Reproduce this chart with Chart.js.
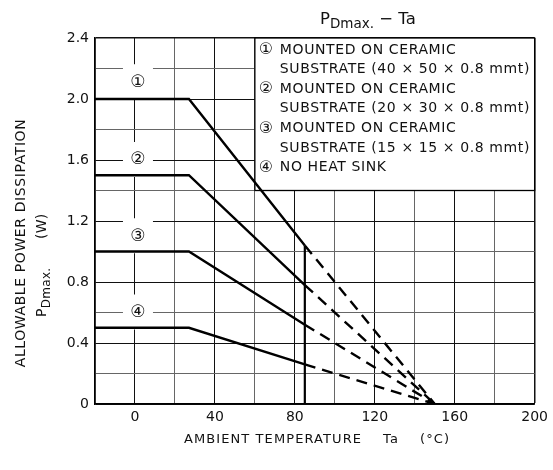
<!DOCTYPE html>
<html>
<head>
<meta charset="utf-8">
<script src="https://cdn.jsdelivr.net/npm/chart.js@4/dist/chart.umd.min.js"></script>
<style>
  html, body { margin: 0; padding: 0; background: #fff; }
  #wrap { width: 553px; height: 470px; }
</style>
</head>
<body>
<div id="wrap"><canvas id="pdChart" width="553" height="470"></canvas></div>
<script>
// solid part of each derating curve (Ta, PD)
const solidTemps = [-20, 27, 85];
const solidPower = [
  [2.0, 2.0, 1.04],
  [1.5, 1.5, 0.78],
  [1.0, 1.0, 0.52],
  [0.5, 0.5, 0.26]
];
// dashed extension down to zero
const dashTemps = [85, 150];
const dashPower = [
  [1.04, 0],
  [0.78, 0],
  [0.52, 0],
  [0.26, 0]
];
// vertical marker at 85 C
const markerTemps = [85, 85];
const markerPower = [0, 1.04];

const curveMarks = ['①', '②', '③', '④'];
const markTemp = 1.5;
const markPower = [2.11, 1.6, 1.1, 0.6];

const legendLines = [
  ['①', 'MOUNTED ON CERAMIC'],
  ['', 'SUBSTRATE (40 × 50 × 0.8 mmt)'],
  ['②', 'MOUNTED ON CERAMIC'],
  ['', 'SUBSTRATE (20 × 30 × 0.8 mmt)'],
  ['③', 'MOUNTED ON CERAMIC'],
  ['', 'SUBSTRATE (15 × 15 × 0.8 mmt)'],
  ['④', 'NO HEAT SINK']
];
const legendBox = { x1: 60, x2: 200, y1: 1.4, y2: 2.4 };

const xMin = -20, xMax = 200, xStep = 20;
const yMin = 0, yMax = 2.4, yStep = 0.2;

const FONT = '"DejaVu Sans", "Open Sans", sans-serif';

function pts(xs, ys) {
  return xs.map((t, i) => ({ x: t, y: ys[i] }));
}

var datasets = [];
solidPower.forEach(function (p) {
  datasets.push({ data: pts(solidTemps, p), borderColor: '#000', borderWidth: 2.4, pointRadius: 0, tension: 0, fill: false });
});
dashPower.forEach(function (p) {
  datasets.push({ data: pts(dashTemps, p), borderColor: '#000', borderWidth: 2.4, borderDash: [11, 7], pointRadius: 0, tension: 0, fill: false });
});
datasets.push({ data: pts(markerTemps, markerPower), borderColor: '#000', borderWidth: 2.2, pointRadius: 0, fill: false });

const overlay = {
  id: 'overlay',
  beforeDatasetsDraw(chart) {
    const ctx = chart.ctx;
    const x = chart.scales.x, y = chart.scales.y;
    ctx.save();
    // legend box
    const l = x.getPixelForValue(legendBox.x1), r = x.getPixelForValue(legendBox.x2);
    const t = y.getPixelForValue(legendBox.y2), b = y.getPixelForValue(legendBox.y1);
    ctx.fillStyle = '#fff';
    ctx.fillRect(l, t, r - l, b - t);
    ctx.strokeStyle = '#000';
    ctx.lineWidth = 1.3;
    ctx.strokeRect(l, t, r - l, b - t);

    ctx.fillStyle = '#111';
    ctx.textBaseline = 'middle';
    ctx.textAlign = 'left';
    legendLines.forEach(function (ln, i) {
      const ty = t + 12 + i * 19.6;
      ctx.letterSpacing = '0px';
      if (ln[0]) {
        ctx.font = '16px ' + FONT;
        ctx.fillText(ln[0], l + 4, ty);
      }
      ctx.font = '14px ' + FONT;
      ctx.letterSpacing = '0.6px';
      ctx.fillText(ln[1], l + 25, ty);
    });
    ctx.letterSpacing = '0px';

    // curve number marks with white gap behind them
    curveMarks.forEach(function (m, i) {
      const cx = x.getPixelForValue(markTemp), cy = y.getPixelForValue(markPower[i]);
      ctx.fillStyle = '#fff';
      ctx.fillRect(cx - 15, cy - 18, 30, 35);
      ctx.fillStyle = '#111';
      ctx.font = '17px ' + FONT;
      ctx.textAlign = 'center';
      ctx.fillText(m, cx, cy);
    });
    ctx.restore();
  },
  afterDraw(chart) {
    const ctx = chart.ctx;
    ctx.save();
    ctx.fillStyle = '#111';
    ctx.textBaseline = 'alphabetic';
    // title  P Dmax. - Ta
    ctx.textAlign = 'left';
    let tx = 320;
    ctx.font = '16.5px ' + FONT;
    ctx.fillText('P', tx, 24);
    tx += ctx.measureText('P').width;
    ctx.font = '13.5px ' + FONT;
    ctx.fillText('Dmax.', tx, 28);
    tx += ctx.measureText('Dmax.').width;
    ctx.font = '16.5px ' + FONT;
    ctx.fillText(' − Ta', tx, 24);

    // x axis title
    ctx.font = '13px ' + FONT;
    ctx.letterSpacing = '1.1px';
    ctx.textAlign = 'center';
    ctx.fillText('AMBIENT TEMPERATURE    Ta    (°C)', 317, 443);

    // y axis title (rotated)
    ctx.letterSpacing = '0.6px';
    ctx.save();
    ctx.translate(25, 243);
    ctx.rotate(-Math.PI / 2);
    ctx.font = '14px ' + FONT;
    ctx.textAlign = 'center';
    ctx.fillText('ALLOWABLE POWER DISSIPATION', 0, 0);
    ctx.restore();

    ctx.letterSpacing = '0.3px';
    ctx.save();
    ctx.translate(46, 262);
    ctx.rotate(-Math.PI / 2);
    ctx.textAlign = 'left';
    let px = -55;
    ctx.font = '14px ' + FONT;
    ctx.fillText('P', px, 0);
    px += ctx.measureText('P').width;
    ctx.font = '12px ' + FONT;
    ctx.fillText('Dmax.', px, 4);
    px += ctx.measureText('Dmax.').width;
    ctx.font = '14px ' + FONT;
    ctx.fillText('      (W)', px, 0);
    ctx.restore();
    ctx.restore();
  }
};

function isMajor(v, step) {
  const k = v / step;
  return Math.abs(k - Math.round(k)) < 1e-6;
}

new Chart(document.getElementById('pdChart').getContext('2d'), {
  type: 'line',
  data: { datasets: datasets },
  options: {
    responsive: false,
    animation: false,
    events: [],
    layout: { padding: { left: 0, top: 38, right: 14, bottom: 0 } },
    plugins: { legend: { display: false }, tooltip: { enabled: false }, title: { display: false } },
    scales: {
      x: {
        type: 'linear',
        min: xMin, max: xMax,
        afterFit: function (s) { s.height = 66; },
        ticks: {
          stepSize: xStep,
          autoSkip: false,
          maxRotation: 0,
          padding: 5,
          color: '#111',
          font: { family: FONT, size: 14 },
          callback: function (v) { return isMajor(v, 40) ? String(v) : ''; }
        },
        grid: {
          drawTicks: false,
          color: function (c) { return isMajor(c.tick.value, 40) || c.tick.value === xMax ? '#111' : '#666'; },
          lineWidth: function (c) { return c.tick.value === xMax ? 1.5 : 1; }
        },
        border: { color: '#000', width: 1.5 }
      },
      y: {
        type: 'linear',
        min: yMin, max: yMax,
        afterFit: function (s) { s.width = 95; },
        ticks: {
          stepSize: yStep,
          autoSkip: false,
          padding: 6,
          color: '#111',
          font: { family: FONT, size: 14 },
          callback: function (v) { return isMajor(v, 0.4) ? (v === 0 ? '0' : v.toFixed(1)) : ''; }
        },
        grid: {
          drawTicks: false,
          color: function (c) { return isMajor(c.tick.value, 0.4) ? '#111' : '#666'; },
          lineWidth: function (c) { return Math.abs(c.tick.value - yMax) < 1e-6 ? 1.5 : 1; }
        },
        border: { color: '#000', width: 1.5 }
      }
    }
  },
  plugins: [overlay]
});
</script>
</body>
</html>
